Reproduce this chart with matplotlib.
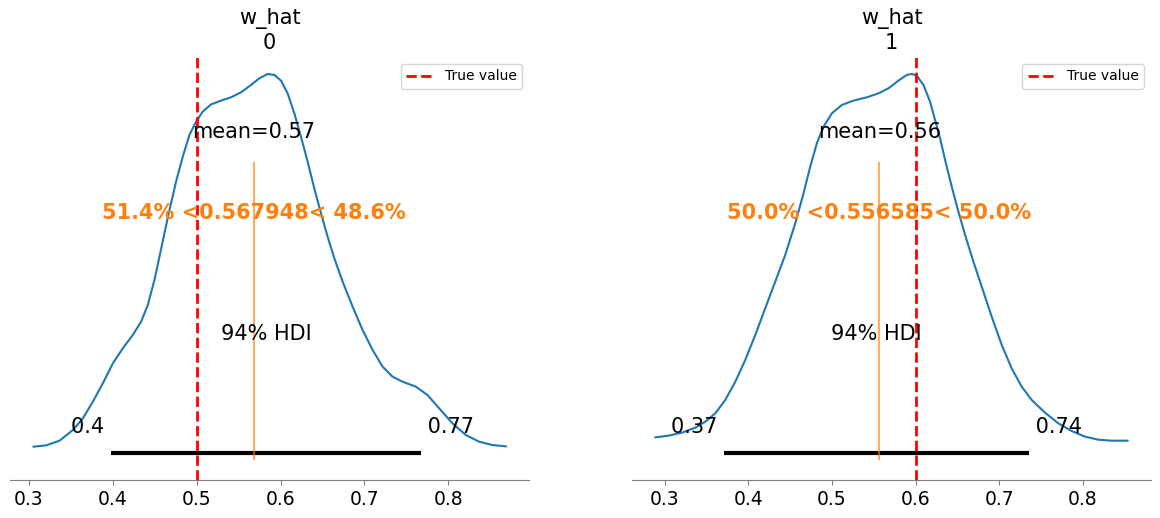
import matplotlib.pyplot as plt

var_name = "w_hat"
coord_labels = ["0", "1"]
true_values = [0.5, 0.6]
means = [0.567948, 0.556585]
mean_labels = ["0.57", "0.56"]
hdi_low = [0.398, 0.3713]
hdi_high = [0.7675, 0.7357]
hdi_low_labels = ["0.4", "0.37"]
hdi_high_labels = ["0.77", "0.74"]
pct_below = ["51.4%", "50.0%"]
pct_above = ["48.6%", "50.0%"]

# kde of w_hat[0]
grid_0 = [0.3054, 0.3205, 0.3364, 0.3523, 0.3642, 0.3761, 0.3880, 0.4000, 0.4119,
          0.4238, 0.4337, 0.4417, 0.4496, 0.4556, 0.4615, 0.4675, 0.4754, 0.4834,
          0.4913, 0.4993, 0.5072, 0.5172, 0.5291, 0.5410, 0.5529, 0.5648, 0.5748,
          0.5847, 0.5927, 0.6006, 0.6085, 0.6165, 0.6244, 0.6324, 0.6403, 0.6483,
          0.6562, 0.6642, 0.6741, 0.6860, 0.6979, 0.7099, 0.7218, 0.7337, 0.7456,
          0.7615, 0.7754, 0.7893, 0.8052, 0.8211, 0.8370, 0.8529, 0.8688]
density_0 = [0.142, 0.155, 0.201, 0.307, 0.422, 0.587, 0.769, 0.967, 1.116,
             1.248, 1.380, 1.545, 1.792, 2.023, 2.254, 2.485, 2.766, 3.013,
             3.228, 3.360, 3.459, 3.531, 3.568, 3.601, 3.650, 3.723, 3.789,
             3.832, 3.822, 3.766, 3.640, 3.442, 3.211, 2.964, 2.700, 2.452,
             2.221, 2.007, 1.776, 1.528, 1.297, 1.099, 0.934, 0.835, 0.785,
             0.736, 0.653, 0.521, 0.373, 0.257, 0.191, 0.158, 0.145]

# kde of w_hat[1]
grid_1 = [0.2889, 0.3048, 0.3208, 0.3367, 0.3486, 0.3606, 0.3725, 0.3845, 0.3964,
          0.4084, 0.4203, 0.4323, 0.4442, 0.4562, 0.4661, 0.4741, 0.4820, 0.4900,
          0.5000, 0.5119, 0.5258, 0.5418, 0.5557, 0.5677, 0.5796, 0.5896, 0.5955,
          0.6015, 0.6095, 0.6174, 0.6234, 0.6294, 0.6354, 0.6433, 0.6513, 0.6593,
          0.6692, 0.6792, 0.6911, 0.7031, 0.7150, 0.7270, 0.7389, 0.7548, 0.7708,
          0.7867, 0.8026, 0.8186, 0.8345, 0.8536]
density_1 = [0.234, 0.251, 0.281, 0.330, 0.389, 0.472, 0.604, 0.785, 1.000,
             1.248, 1.512, 1.776, 2.040, 2.353, 2.650, 2.914, 3.145, 3.310,
             3.442, 3.525, 3.568, 3.601, 3.640, 3.690, 3.766, 3.822, 3.832,
             3.815, 3.723, 3.558, 3.376, 3.195, 2.980, 2.716, 2.469, 2.238,
             1.974, 1.726, 1.429, 1.149, 0.917, 0.736, 0.604, 0.479, 0.373,
             0.297, 0.241, 0.211, 0.201, 0.201]

grids = [grid_0, grid_1]
densities = [density_0, density_1]

text_size = 15
fig, axes = plt.subplots(1, 2, figsize=(11.6, 5.18), dpi=100)
fig.subplots_adjust(left=0.0086, right=0.9924, bottom=0.073, top=0.89, wspace=0.197)

top = 4.0  # max_data used for placing the annotations
for i, ax in enumerate(axes):
    ax.plot(grids[i], densities[i], color="C0", lw=1.5)
    ax.plot([hdi_low[i], hdi_high[i]], [top * 0.02, top * 0.02], lw=3, color="k",
            solid_capstyle="butt")
    ax.text(hdi_low[i], top * 0.07, hdi_low_labels[i] + " ", size=text_size, ha="right")
    ax.text(hdi_high[i], top * 0.07, " " + hdi_high_labels[i], size=text_size, ha="left")
    ax.text((hdi_low[i] + hdi_high[i]) / 2, top * 0.3, "94% HDI", size=text_size, ha="center")
    ax.text(means[i], top * 0.8, "mean=" + mean_labels[i], size=text_size, ha="center")

    ax.axvline(means[i], ymin=0.05, ymax=0.75, lw=1.5, alpha=0.65, color="C1")
    ax.text(means[i], top * 0.6, f"{pct_below[i]} <{means[i]:g}< {pct_above[i]}",
            size=text_size, weight="semibold", ha="center", color="C1")

    ax.axvline(true_values[i], color="r", ls="--", lw=2, label="True value")
    ax.legend(loc="upper right", fontsize=10)

    ax.set_ylim(-0.19, top)
    ax.set_yticks([])
    for side in ["left", "right", "top"]:
        ax.spines[side].set_visible(False)
    ax.spines["bottom"].set_color("#808080")
    ax.tick_params(axis="x", colors="#808080", labelcolor="black", labelsize=13.5)
    ax.set_title(var_name + "\n" + coord_labels[i], fontsize=text_size)

fig.savefig("out.png")
